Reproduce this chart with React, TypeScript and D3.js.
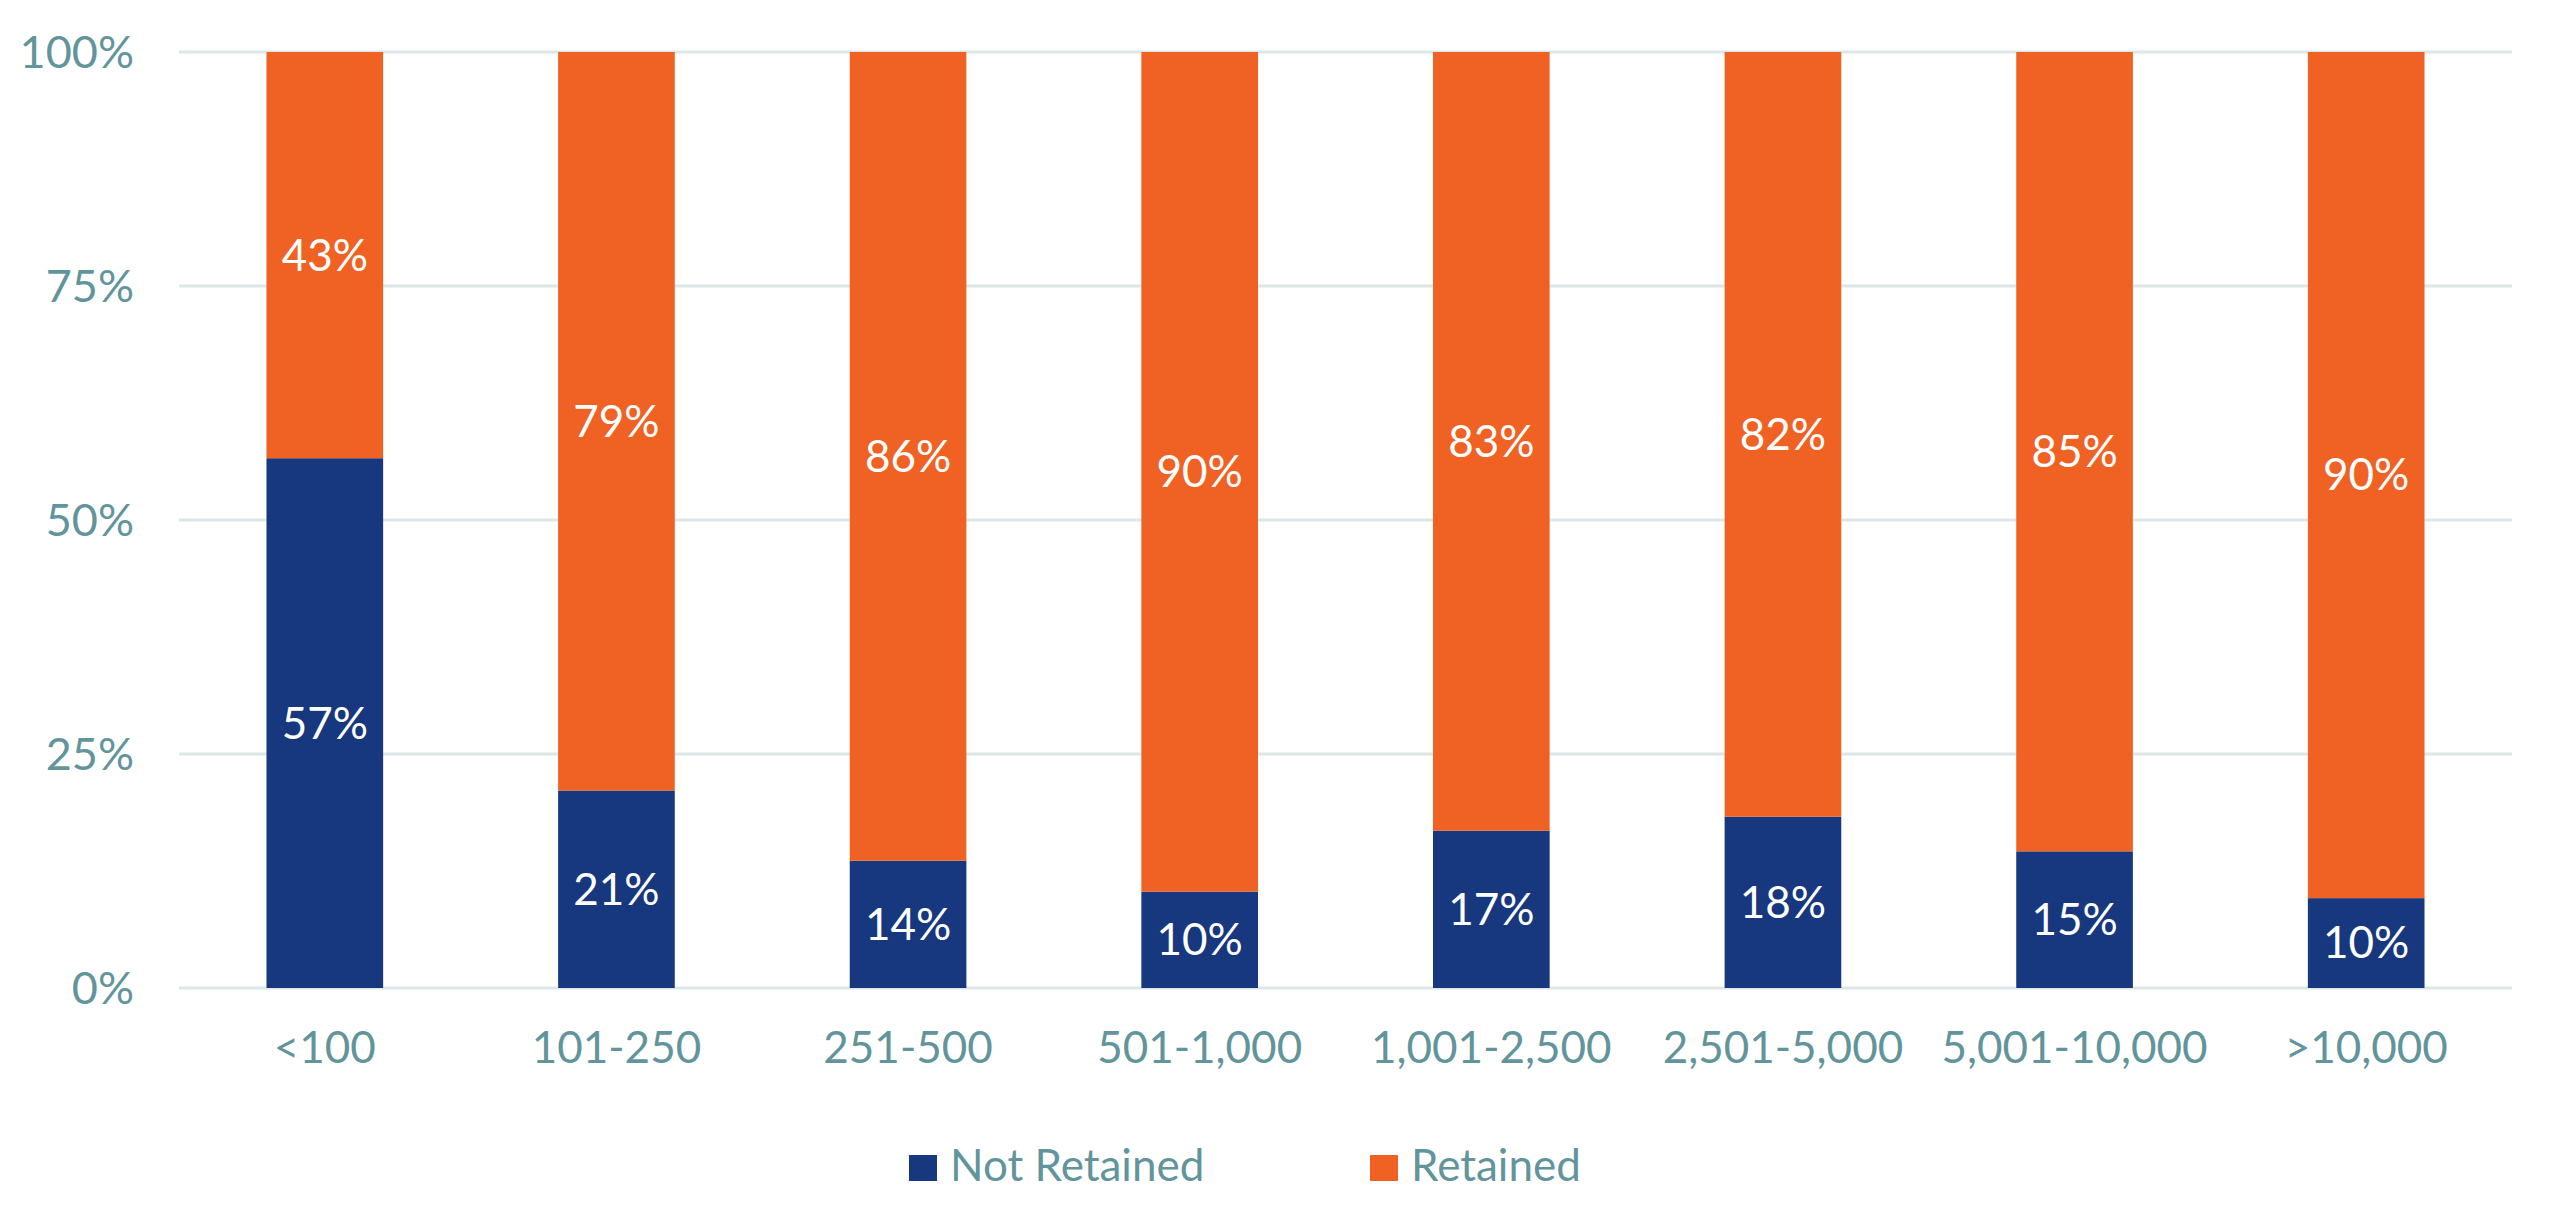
import React from 'react';
import * as d3 from 'd3';

const categories = ['<100', '101-250', '251-500', '501-1,000', '1,001-2,500', '2,501-5,000', '5,001-10,000', '>10,000'];
const notRetained = [56.6, 21.1, 13.6, 10.3, 16.8, 18.3, 14.6, 9.6];
const retained = [43.4, 78.9, 86.4, 89.7, 83.2, 81.7, 85.4, 90.4];
const seriesNames = ['Not Retained', 'Retained'];
const yTicks = [0, 25, 50, 75, 100];

const width = 2560, height = 1216;
const left = 179, right = 2512, top = 52, bottom = 988;
const colors = ['#17387e', '#f06224'];
const textColor = '#62959b';
const font = 'Lato, "Open Sans", sans-serif';

export default function App() {
  const x = d3.scaleBand().domain(categories).range([left, right]).paddingInner(0.6).paddingOuter(0.3);
  const y = d3.scaleLinear().domain([0, 100]).range([bottom, top]);
  const fmt = d3.format('.0f');

  const rows = categories.map((c, i) => ({ cat: c, 'Not Retained': notRetained[i], 'Retained': retained[i] }));
  const stacked = d3.stack<any>().keys(seriesNames)(rows);

  return (
    <svg width={width} height={height} style={{ position: 'absolute', left: 0, top: 0, background: '#fff' }}
      fontFamily={font}>
      {/* gridlines + y ticks */}
      {yTicks.map(t => (
        <g key={t}>
          <line x1={left} x2={right} y1={y(t)} y2={y(t)} stroke="#dce7e8" strokeWidth={3} />
          <text x={134} y={y(t)} dy="0.35em" textAnchor="end" fill={textColor} fontSize={45}>{t}%</text>
        </g>
      ))}
      {/* bars */}
      {stacked.map((s, si) => (
        <g key={s.key}>
          {s.map((d, i) => (
            <g key={i}>
              <rect x={x(categories[i])} width={x.bandwidth()} y={y(d[1])} height={y(d[0]) - y(d[1])}
                fill={colors[si]} />
              <text x={(x(categories[i]) as number) + x.bandwidth() / 2} y={(y(d[0]) + y(d[1])) / 2}
                dy="0.35em" textAnchor="middle" fill="#fff" fontSize={44}>
                {fmt(d[1] - d[0])}%
              </text>
            </g>
          ))}
        </g>
      ))}
      {/* x labels */}
      {categories.map(c => (
        <text key={c} x={(x(c) as number) + x.bandwidth() / 2} y={1063} textAnchor="middle"
          fill={textColor} fontSize={44}>{c}</text>
      ))}
      {/* legend */}
      {seriesNames.map((n, i) => {
        const lx = i === 0 ? 909 : 1370;
        return (
          <g key={n}>
            <rect x={lx} y={1155} width={28} height={26} fill={colors[i]} />
            <text x={lx + 41} y={1181} fill={textColor} fontSize={44}>{n}</text>
          </g>
        );
      })}
    </svg>
  );
}
